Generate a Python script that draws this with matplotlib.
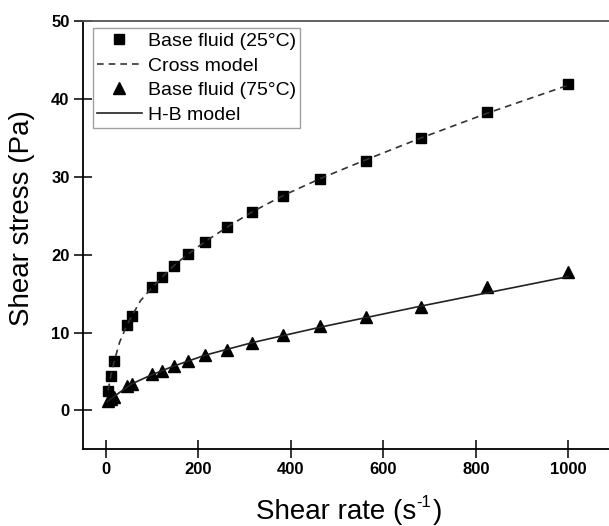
import numpy as np
import matplotlib
matplotlib.use("Agg")
import matplotlib.pyplot as plt

plt.rcParams['font.family'] = ['Liberation Sans', 'DejaVu Sans']

# measured points, base fluid at 25 C (squares) and 75 C (triangles)
rate = [5, 11, 18, 46, 56, 100, 121, 147, 178, 215, 261, 316, 383, 464, 562, 681, 825, 1000]
stress_25 = [2.5, 4.4, 6.4, 11.0, 12.1, 15.8, 17.1, 18.6, 20.1, 21.7, 23.6, 25.5,
             27.5, 29.7, 32.1, 35.0, 38.3, 41.9]
stress_75 = [1.2, 1.4, 1.7, 3.1, 3.4, 4.7, 5.1, 5.7, 6.3, 7.1, 7.8, 8.7,
             9.7, 10.8, 12.0, 13.3, 15.8, 17.8]

# fitted curves
cross_rate = [5, 11, 18, 30, 46, 56, 75, 100, 121, 147, 178, 215, 261, 316,
              383, 464, 562, 681, 825, 1000]
cross_stress = [2.6, 4.5, 6.3, 8.8, 11.0, 12.1, 14.1, 15.8, 17.1, 18.6, 20.1, 21.7,
                23.5, 25.5, 27.6, 29.8, 32.2, 35.0, 38.2, 41.8]
hb_rate = [3, 5, 11, 18, 46, 56, 100, 147, 215, 316, 464, 681, 1000]
hb_stress = [1.1, 1.2, 1.5, 1.8, 3.0, 3.4, 4.6, 5.7, 7.1, 8.7, 10.7, 13.4, 17.2]

fig = plt.figure(figsize=(6.09, 5.26), dpi=100)
W, H = 609, 526
ax = fig.add_axes([82.7 / W, (H - 449.3) / H, 532 / W, 428 / H])

ax.plot(rate, stress_25, 's', color='black', ms=7.5, label='Base fluid (25°C)')
ax.plot(cross_rate, cross_stress, '--', color='#333333', lw=1.2, dashes=(4, 3),
        label='Cross model')
ax.plot(rate, stress_75, '^', color='black', ms=8.5, label='Base fluid (75°C)')
ax.plot(hb_rate, hb_stress, '-', color='#222222', lw=1.2, label='H-B model')

ax.set_xlim(-50, 1100)
ax.set_ylim(-5, 50)
ax.set_xticks([0, 200, 400, 600, 800, 1000])
ax.set_yticks([0, 10, 20, 30, 40, 50])
ax.tick_params(direction='inout', length=13, width=1.1, labelsize=12, pad=3)
for lab in ax.get_xticklabels() + ax.get_yticklabels():
    lab.set_fontweight('bold')

for s in ['left', 'bottom']:
    ax.spines[s].set_linewidth(1.3)
ax.spines['top'].set_color('#555555')
ax.spines['top'].set_linewidth(1.3)

leg = ax.legend(loc='upper left', bbox_to_anchor=(0.019, 0.984), borderaxespad=0,
                fontsize=14, frameon=True, fancybox=False, labelspacing=0.36,
                handlelength=2.3, handletextpad=0.3, borderpad=0.22)
leg.get_frame().set_edgecolor('#888888')
leg.get_frame().set_linewidth(1.0)

# x label built from pieces so the superscript keeps a plain hyphen
fig.canvas.draw()
r = fig.canvas.get_renderer()
base_y = 1 - 519 / H
p1 = fig.text(0, base_y, 'Shear rate (s', fontsize=20, va='baseline')
p2 = fig.text(0, base_y + 12 / H, '-1', fontsize=12, va='baseline')
p3 = fig.text(0, base_y, ')', fontsize=20, va='baseline')
w1 = p1.get_window_extent(r).width
w2 = p2.get_window_extent(r).width
w3 = p3.get_window_extent(r).width
x0 = 348.5 - (w1 + w2 + w3) / 2
p1.set_x(x0 / W)
p2.set_x((x0 + w1) / W)
p3.set_x((x0 + w1 + w2 + 1) / W)

fig.text(22 / W, 1 - 218 / H, 'Shear stress (Pa)', fontsize=20, rotation=90,
         ha='center', va='center')

fig.savefig('out.png', dpi=100)
